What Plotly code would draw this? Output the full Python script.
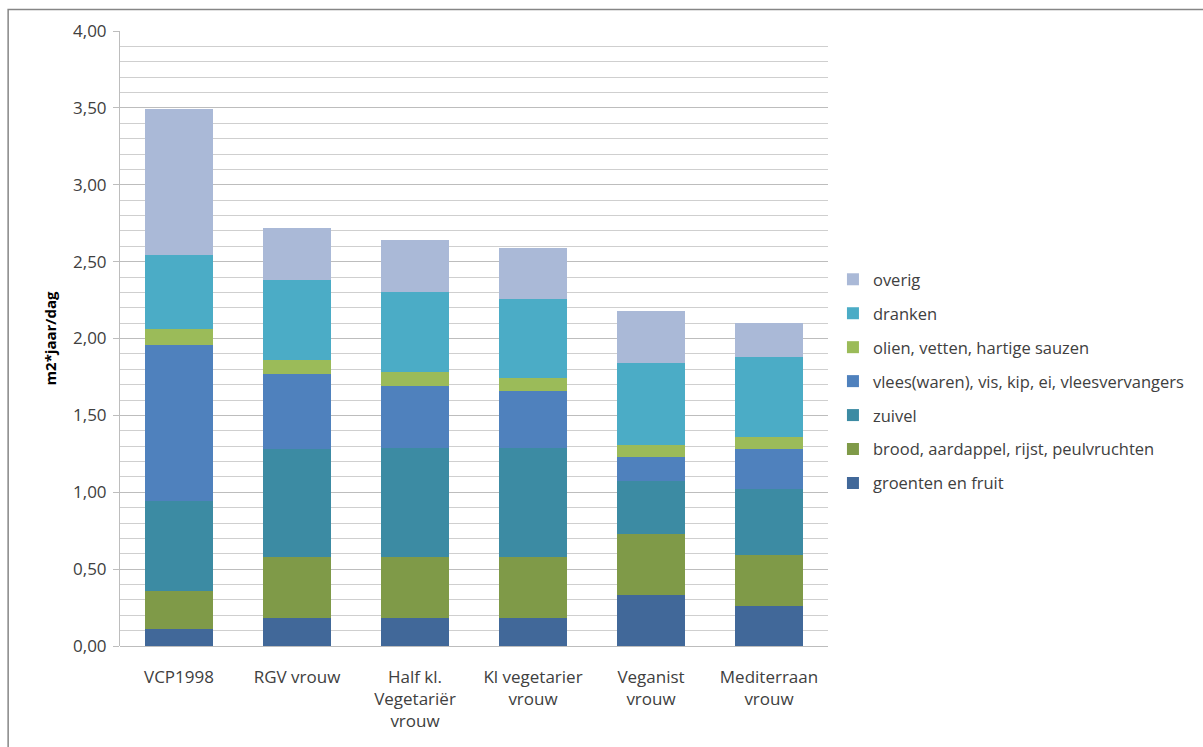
import plotly.graph_objects as go

# Diet scenarios (x-axis categories)
categories = [
    "VCP1998",
    "RGV vrouw",
    "Half kl.<br>Vegetariër<br>vrouw",
    "Kl vegetarier<br>vrouw",
    "Veganist<br>vrouw",
    "Mediterraan<br>vrouw",
]

# Land use per food group, m2*jaar/dag (stacked bottom to top)
groenten_fruit = [0.11, 0.18, 0.18, 0.18, 0.33, 0.26]
brood_aardappel = [0.25, 0.40, 0.40, 0.40, 0.40, 0.33]
zuivel = [0.58, 0.70, 0.71, 0.71, 0.34, 0.43]
vlees_vis = [1.02, 0.49, 0.40, 0.37, 0.16, 0.26]
olien_vetten = [0.10, 0.09, 0.09, 0.08, 0.08, 0.08]
dranken = [0.48, 0.52, 0.52, 0.52, 0.53, 0.52]
overig = [0.95, 0.34, 0.34, 0.33, 0.34, 0.22]

series = [
    ("groenten en fruit", groenten_fruit, "#416899"),
    ("brood, aardappel, rijst, peulvruchten", brood_aardappel, "#7F9A48"),
    ("zuivel", zuivel, "#3C8BA3"),
    ("vlees(waren), vis, kip, ei, vleesvervangers", vlees_vis, "#4F81BD"),
    ("olien, vetten, hartige sauzen", olien_vetten, "#9BBB59"),
    ("dranken", dranken, "#4BACC6"),
    ("overig", overig, "#AAB9D7"),
]

FONT = "'Open Sans', Lato, sans-serif"
TEXT = "#404040"

fig = go.Figure()
n = len(series)
for i, (name, vals, color) in enumerate(series):
    fig.add_trace(go.Bar(
        name=name,
        x=categories,
        y=vals,
        marker=dict(color=color, line=dict(width=0)),
        legendgroup=f"g{i}",
        legendrank=n - i,  # top of the stack listed first
    ))

fig.update_layout(
    barmode="stack",
    bargap=0.42,
    width=1203,
    height=747,
    margin=dict(l=120, r=375, t=31, b=101),
    paper_bgcolor="white",
    plot_bgcolor="white",
    separators=",.",
    font=dict(family=FONT, size=16, color=TEXT),
    showlegend=True,
    legend=dict(
        x=1.007,
        xanchor="left",
        y=0.43,
        yanchor="middle",
        traceorder="grouped",
        tracegroupgap=9.5,
        font=dict(family=FONT, size=16.5, color=TEXT),
        bgcolor="rgba(0,0,0,0)",
    ),
    xaxis=dict(
        showline=False,
        showgrid=False,
        ticks="",
        ticklabelstandoff=19,
        tickfont=dict(family=FONT, size=17, color=TEXT),
        fixedrange=True,
    ),
    yaxis=dict(
        range=[0, 4],
        dtick=0.5,
        tick0=0,
        tickformat=".2f",
        showgrid=True,
        gridcolor="#BDBDBD",
        gridwidth=1,
        showline=True,
        linecolor="#BDBDBD",
        linewidth=1,
        ticks="outside",
        ticklen=6,
        tickcolor="#BDBDBD",
        ticklabelstandoff=3,
        tickfont=dict(family=FONT, size=17, color=TEXT),
        zeroline=True,
        zerolinecolor="#BDBDBD",
        zerolinewidth=1,
        minor=dict(dtick=0.1, showgrid=True, gridcolor="#CFCFCF", gridwidth=1),
        title=dict(
            text="<b>m2*jaar/dag</b>",
            font=dict(family=FONT, size=15, color="#000000"),
            standoff=12,
        ),
        fixedrange=True,
    ),
)

# Chart area frame
fig.add_shape(
    type="rect", xref="paper", yref="paper",
    x0=-0.158, x1=1.6, y0=-0.25, y1=1.035,
    line=dict(color="#868686", width=1.5),
    fillcolor="rgba(0,0,0,0)",
    layer="below",
)

fig.write_html("out.html")
